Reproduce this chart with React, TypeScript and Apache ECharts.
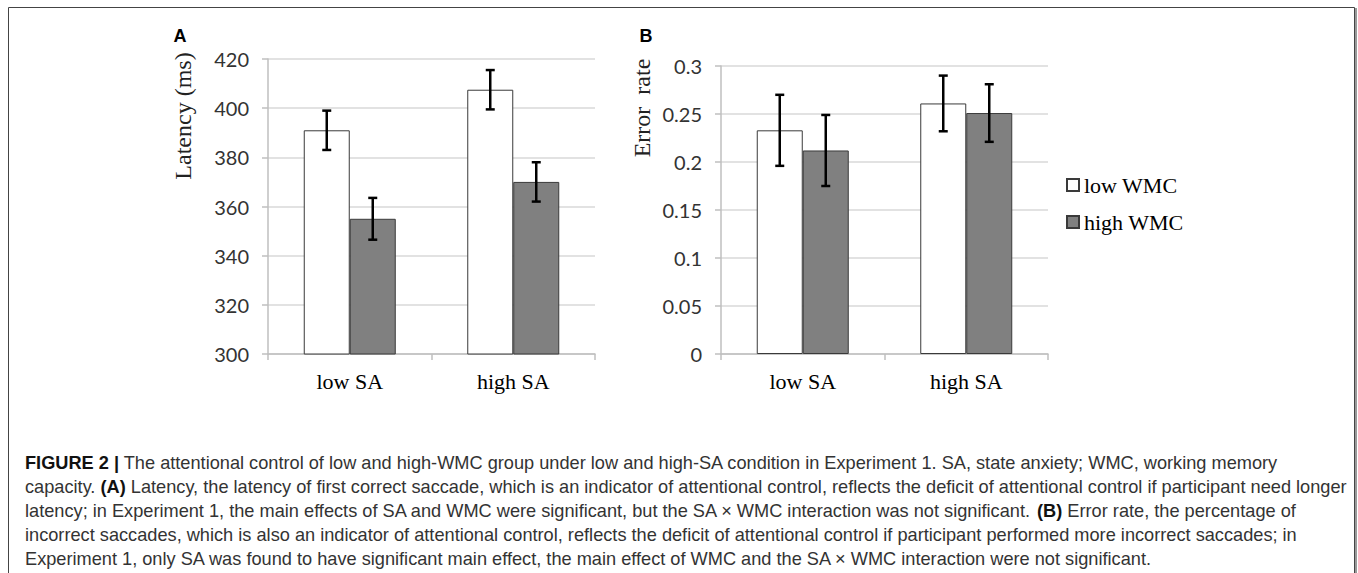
import React, { useEffect, useRef } from "react";
import * as echarts from "echarts";

const categories = ["low SA", "high SA"];
const seriesNames = ["low WMC", "high WMC"];
const latencyLow = [391, 407.5];
const latencyHigh = [355, 370];
const latencyLowErr = [8, 8];
const latencyHighErr = [8.5, 8];
const errorLow = [0.233, 0.261];
const errorHigh = [0.212, 0.251];
const errorLowErr = [0.037, 0.029];
const errorHighErr = [0.037, 0.03];

const BAR_W = 46;
const SERIF = "'Liberation Serif', 'Times New Roman', serif";
const TICK_FONT = "Lato, 'Open Sans', sans-serif";
const SANS = "'Liberation Sans', Arial, Helvetica, sans-serif";

const captionLines = [
  "{b|FIGURE 2 |} The attentional control of low and high-WMC group under low and high-SA condition in Experiment 1. SA, state anxiety; WMC, working memory",
  "capacity. {b|(A)} Latency, the latency of first correct saccade, which is an indicator of attentional control, reflects the deficit of attentional control if participant need longer",
  "latency; in Experiment 1, the main effects of SA and WMC were significant, but the SA \u00d7 WMC interaction was not significant. {b|(B)} Error rate, the percentage of",
  "incorrect saccades, which is also an indicator of attentional control, reflects the deficit of attentional control if participant performed more incorrect saccades; in",
  "Experiment 1, only SA was found to have significant main effect, the main effect of WMC and the SA \u00d7 WMC interaction were not significant.",
];

function errSeries(name: string, xi: number, yi: number, vals: number[], errs: number[], side: number) {
  return {
    type: "custom",
    name,
    xAxisIndex: xi,
    yAxisIndex: yi,
    z: 5,
    encode: { x: 0, y: 1 },
    data: vals.map((v, i) => [i, v, errs[i]]),
    renderItem: (params: any, api: any) => {
      const c = api.value(0);
      const v = api.value(1);
      const e = api.value(2);
      const top = api.coord([c, v + e]);
      const bot = api.coord([c, v - e]);
      const x = top[0] + (side * BAR_W) / 2;
      const cap = 4.5;
      const style = { stroke: "#000", lineWidth: 2.5 };
      return {
        type: "group",
        children: [
          { type: "line", shape: { x1: x, y1: top[1], x2: x, y2: bot[1] }, style },
          { type: "line", shape: { x1: x - cap, y1: top[1], x2: x + cap, y2: top[1] }, style },
          { type: "line", shape: { x1: x - cap, y1: bot[1], x2: x + cap, y2: bot[1] }, style },
        ],
      };
    },
  };
}

function barSeries(name: string, xi: number, yi: number, vals: number[], fill: string) {
  return {
    type: "bar",
    name,
    xAxisIndex: xi,
    yAxisIndex: yi,
    barWidth: BAR_W,
    barGap: "0%",
    data: vals,
    itemStyle: { color: fill, borderColor: "#3a3a3a", borderWidth: 1 },
  };
}

const axisGray = "#bfbfbf";
const gridGray = "#d9d9d9";

function yAxis(gridIndex: number, min: number, max: number, interval: number) {
  return {
    type: "value",
    gridIndex,
    min,
    max,
    interval,
    axisLine: { show: true, lineStyle: { color: axisGray, width: 1.5 } },
    axisTick: { show: true, length: 6, lineStyle: { color: axisGray, width: 1.5 } },
    axisLabel: { fontFamily: TICK_FONT, fontSize: 20, color: "#333", margin: 19 },
    splitLine: { show: true, lineStyle: { color: gridGray, width: 1.5 } },
  };
}

function xAxis(gridIndex: number) {
  return {
    type: "category",
    gridIndex,
    data: categories,
    boundaryGap: true,
    axisLine: { show: true, lineStyle: { color: axisGray, width: 1.5 } },
    axisTick: { show: true, length: 6, interval: 0, lineStyle: { color: axisGray, width: 1.5 } },
    axisLabel: { fontFamily: SERIF, fontSize: 22, color: "#000", margin: 16, interval: 0 },
  };
}

export default function App() {
  const ref = useRef<HTMLDivElement>(null);
  useEffect(() => {
    if (!ref.current) return;
    const chart = echarts.init(ref.current, undefined, { renderer: "svg" });
    chart.setOption({
      animation: false,
      backgroundColor: "#fff",
      grid: [
        { left: 268, top: 59, width: 327, height: 295 },
        { left: 721, top: 66, width: 327, height: 288 },
      ],
      xAxis: [xAxis(0), xAxis(1)],
      yAxis: [yAxis(0, 300, 420, 20), yAxis(1, 0, 0.3, 0.05)],
      legend: {
        data: seriesNames,
        orient: "vertical",
        left: 1061,
        top: 169,
        icon: "rect",
        itemWidth: 12,
        itemHeight: 12,
        itemGap: 15,
        textStyle: { fontFamily: SERIF, fontSize: 22, color: "#000", padding: [0, 0, 0, 0] },
      },
      series: [
        barSeries(seriesNames[0], 0, 0, latencyLow, "#ffffff"),
        barSeries(seriesNames[1], 0, 0, latencyHigh, "#808080"),
        barSeries(seriesNames[0], 1, 1, errorLow, "#ffffff"),
        barSeries(seriesNames[1], 1, 1, errorHigh, "#808080"),
        errSeries("errA1", 0, 0, latencyLow, latencyLowErr, -1),
        errSeries("errA2", 0, 0, latencyHigh, latencyHighErr, 1),
        errSeries("errB1", 1, 1, errorLow, errorLowErr, -1),
        errSeries("errB2", 1, 1, errorHigh, errorHighErr, 1),
      ],
      graphic: [
        {
          type: "rect",
          shape: { x: 8.5, y: 7.5, width: 1346, height: 600 },
          style: { fill: "none", stroke: "#444", lineWidth: 1 },
          silent: true,
        },
        {
          type: "line",
          shape: { x1: 1356, y1: 8, x2: 1356, y2: 573 },
          style: { stroke: "#999", lineWidth: 2 },
          silent: true,
        },
        {
          type: "text",
          x: 180,
          y: 36,
          style: { text: "A", font: `bold 18px ${SANS}`, fill: "#000", textAlign: "center", textVerticalAlign: "middle" },
        },
        {
          type: "text",
          x: 646,
          y: 36,
          style: { text: "B", font: `bold 18px ${SANS}`, fill: "#000", textAlign: "center", textVerticalAlign: "middle" },
        },
        {
          type: "text",
          x: 183,
          y: 116,
          rotation: Math.PI / 2,
          style: { text: "Latency (ms)", font: `24px ${SERIF}`, fill: "#222", textAlign: "center", textVerticalAlign: "middle" },
        },
        {
          type: "text",
          x: 642,
          y: 108,
          rotation: Math.PI / 2,
          style: { text: "Error  rate", font: `24px ${SERIF}`, fill: "#222", textAlign: "center", textVerticalAlign: "middle" },
        },
        {
          type: "text",
          x: 25,
          y: 451,
          style: {
            text: captionLines.join("\n"),
            fontFamily: SANS,
            fontSize: 18.2,
            lineHeight: 24,
            fill: "#333",
            textAlign: "left",
            textVerticalAlign: "top",
            rich: {
              b: { fontFamily: SANS, fontSize: 18.2, fontWeight: "bold", fill: "#111", lineHeight: 24 },
            },
          },
        },
      ],
    });
    return () => chart.dispose();
  }, []);
  return (
    <div
      ref={ref}
      style={{ position: "fixed", left: 0, top: 0, width: 1358, height: 573, background: "#fff" }}
    />
  );
}
